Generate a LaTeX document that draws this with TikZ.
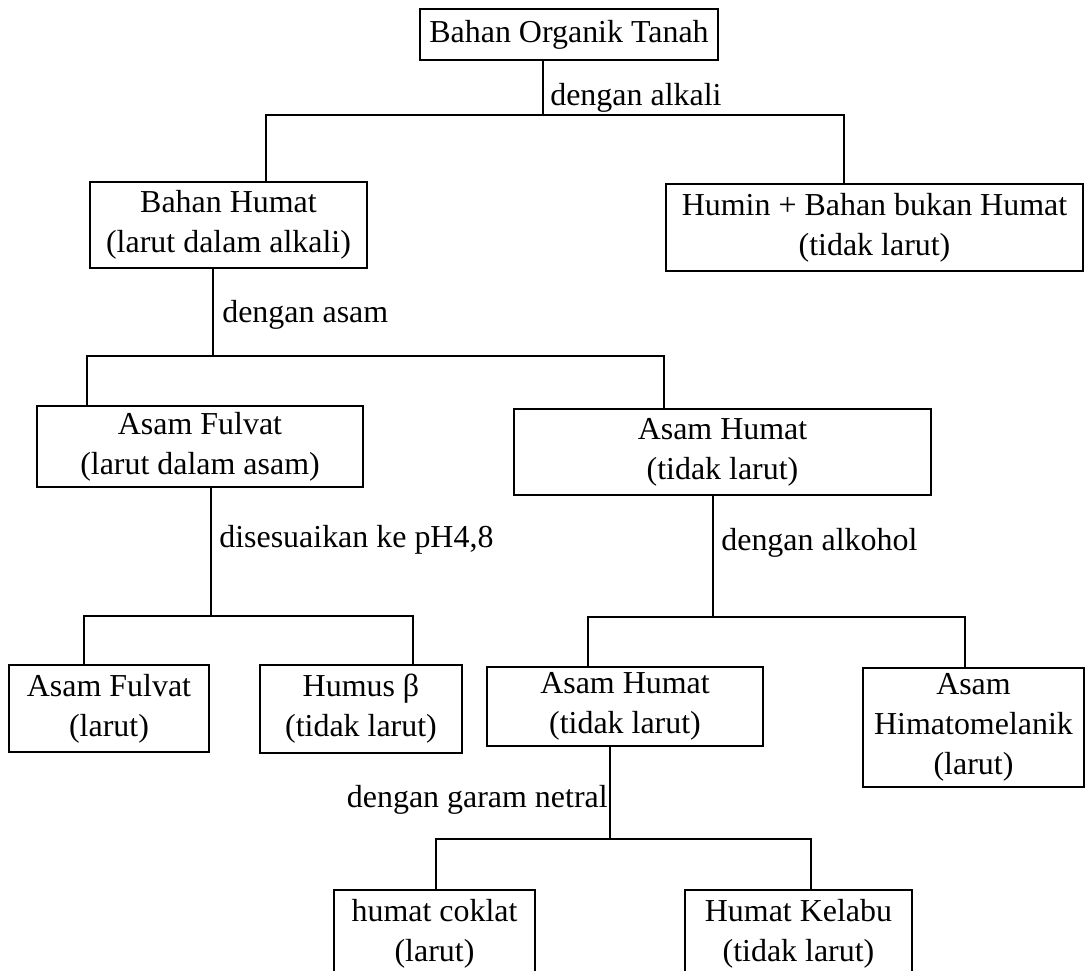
\documentclass[tikz,border=0pt]{standalone}
\usepackage{fontspec}
\setmainfont{Liberation Serif}
\usetikzlibrary{positioning}

\begin{document}
\begin{tikzpicture}[
    x=0.36pt, y=-0.36pt,
    box/.style={rectangle, draw, line width=0.8pt, align=center, inner sep=0pt,
                font=\fontsize{11.5}{14.4}\selectfont},
    size/.style 2 args={minimum width=#1*0.36pt, minimum height=#2*0.36pt},
    link/.style={line width=0.65pt},
    note/.style={inner sep=1pt, font=\fontsize{11.5}{14.4}\selectfont},
]
    \useasboundingbox (0,0) rectangle (1085,971);
    \clip (0,0) rectangle (1085,971);

    \node[box, size={298}{51}]  (top) at (569,34.5)   {Bahan Organik Tanah};
    \node[box, size={277}{86}]  (bh)  at (228.5,225)  {Bahan Humat\\(larut dalam alkali)};
    \node[box, size={417}{87}]  (hm)  at (874.5,227.5) {Humin + Bahan bukan Humat\\(tidak larut)};
    \node[box, size={326}{81}]  (af)  at (200,446.5)  {Asam Fulvat\\(larut dalam asam)};
    \node[box, size={417}{86}]  (ah)  at (722.5,452)  {Asam Humat\\(tidak larut)};
    \node[box, size={200}{87}]  (af2) at (109,708.5)  {Asam Fulvat\\(larut)};
    \node[box, size={202}{88}]  (hb)  at (361,709)    {Humus β\\(tidak larut)};
    \node[box, size={276}{79}]  (ah2) at (625,706.5)  {Asam Humat\\(tidak larut)};
    \node[box, size={221}{119}] (him) at (973.5,727.5) {Asam\\Himatomelanik\\(larut)};
    \node[box, size={201}{88}]  (hc)  at (434.5,934)  {humat coklat\\(larut)};
    \node[box, size={227}{88}]  (hk)  at (798.5,934)  {Humat Kelabu\\(tidak larut)};

    % junctions
    \coordinate (j1)  at (543,115);
    \coordinate (j1a) at (266,115);
    \coordinate (j1b) at (844,115);
    \coordinate (j2)  at (213,356);
    \coordinate (j2a) at (87,356);
    \coordinate (j2b) at (664,356);
    \coordinate (j3)  at (211,616);
    \coordinate (j3a) at (84,616);
    \coordinate (j3b) at (413,616);
    \coordinate (j4)  at (713,617);
    \coordinate (j4a) at (588,617);
    \coordinate (j4b) at (965,617);
    \coordinate (j5)  at (610,839);
    \coordinate (j5a) at (436,839);
    \coordinate (j5b) at (811,839);

    \draw[link] (top.south -| j1) -- (j1);
    \draw[link] (bh.north -| j1a) -- (j1a) -- (j1b) -- (hm.north -| j1b);

    \draw[link] (bh.south -| j2) -- (j2);
    \draw[link] (af.north -| j2a) -- (j2a) -- (j2b) -- (ah.north -| j2b);

    \draw[link] (af.south -| j3) -- (j3);
    \draw[link] (af2.north -| j3a) -- (j3a) -- (j3b) -- (hb.north -| j3b);

    \draw[link] (ah.south -| j4) -- (j4);
    \draw[link] (ah2.north -| j4a) -- (j4a) -- (j4b) -- (him.north -| j4b);

    \draw[link] (ah2.south -| j5) -- (j5);
    \draw[link] (hc.north -| j5a) -- (j5a) -- (j5b) -- (hk.north -| j5b);

    % labels beside the stems
    \node[note, anchor=west] (l1) at (547,98)  {dengan alkali};
    \node[note, anchor=west] (l2) at (219,315) {dengan asam};
    \node[note, anchor=west] (l3) at (216,540) {disesuaikan ke pH4,8};
    \node[note, anchor=west] (l4) at (718,543) {dengan alkohol};
    \node[note, anchor=east] (l5) at (611,800) {dengan garam netral};
\end{tikzpicture}
\end{document}
